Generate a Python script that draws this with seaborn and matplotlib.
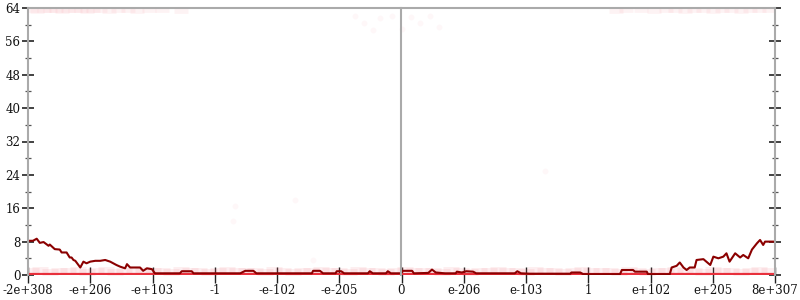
import matplotlib
matplotlib.use("Agg")
import matplotlib.pyplot as plt
import seaborn as sns
from matplotlib.ticker import MultipleLocator

# ---- data ----
tick_labels = ["-2e+308", "-e+206", "-e+103", "-1", "-e-102", "-e-205", "0",
               "e-206", "e-103", "1", "e+102", "e+205", "8e+307"]

avg_x = [0.00, 0.08, 0.14, 0.19, 0.25, 0.33, 0.35, 0.43, 0.51, 0.54, 0.62, 0.67,
         0.70, 0.73, 0.76, 0.81, 0.84, 0.89, 0.94, 1.00, 1.08, 1.16, 1.24, 1.32,
         1.42, 1.48, 1.56, 1.59, 1.64, 1.80, 1.85, 1.91, 1.99, 2.04, 2.44, 2.47,
         2.63, 2.66, 3.41, 3.49, 3.62, 3.67,
         3.97, 4.56, 4.58, 4.69, 4.74, 4.94, 4.96, 5.03, 5.08, 5.46, 5.49, 5.54,
         5.75, 5.78, 5.83, 5.99, 6.02, 6.17, 6.20, 6.43, 6.49, 6.55, 6.70, 6.87,
         6.89, 6.97, 7.04, 7.15, 7.20, 7.82, 7.86, 7.92,
         8.06, 8.71, 8.73, 8.87, 8.92, 9.51, 9.54, 9.72, 9.75, 9.94, 9.96, 10.31,
         10.34, 10.42, 10.47, 10.53, 10.58, 10.63, 10.71, 10.74, 10.85, 10.96,
         11.01, 11.09, 11.17, 11.22, 11.27, 11.36, 11.44, 11.49, 11.57, 11.63,
         11.71, 11.76, 11.81, 11.84, 12.00]
avg_y = [8.2, 8.2, 8.7, 7.7, 7.9, 7.0, 7.3, 6.2, 6.1, 5.4, 5.4, 4.2,
         4.2, 3.6, 3.4, 2.4, 1.8, 3.2, 2.8, 3.2, 3.4, 3.4, 3.6, 3.2,
         2.4, 2.0, 1.6, 2.6, 1.8, 1.8, 1.0, 1.6, 1.4, 0.4, 0.4, 0.9,
         0.9, 0.4, 0.4, 1.0, 1.0, 0.4,
         0.4, 0.4, 1.0, 1.0, 0.4, 0.4, 0.9, 0.9, 0.4, 0.4, 0.9, 0.4,
         0.4, 0.9, 0.4, 0.4, 1.0, 1.0, 0.4, 0.5, 1.3, 0.6, 0.4, 0.4,
         0.8, 0.6, 0.9, 0.8, 0.4, 0.4, 0.9, 0.4,
         0.3, 0.3, 0.6, 0.6, 0.2, 0.2, 1.2, 1.2, 0.8, 0.8, 0.2, 0.2,
         1.8, 2.2, 3.0, 1.8, 1.2, 1.8, 1.8, 3.6, 3.8, 2.4,
         4.4, 4.0, 4.4, 5.2, 3.2, 5.2, 4.2, 4.8, 4.0, 6.1,
         7.6, 8.4, 7.2, 8.0, 8.0]

base_x = [0.0, 12.0]
base_y = [0.25, 0.25]

band_x = [0.05, 0.2, 0.35, 0.5, 0.65, 0.8, 0.95, 1.1, 1.25, 1.4, 1.55, 1.7,
          1.85, 2.0, 2.15, 2.3, 2.45, 2.6, 2.75, 2.9, 3.05, 3.2, 3.35, 3.5,
          3.65, 3.8, 3.95, 4.1, 4.25, 4.4, 4.55, 4.7, 4.85, 5.0, 5.15, 5.3,
          5.45, 5.6, 5.75, 5.9, 6.05, 6.2, 6.35, 6.5, 6.65, 6.8, 6.95, 7.1,
          7.25, 7.4, 7.55, 7.7, 7.85, 8.0, 8.15, 8.3, 8.45, 8.6, 8.75, 8.9,
          9.05, 9.2, 9.35, 9.5, 9.65, 9.8, 9.95, 10.1, 10.25, 10.4, 10.55, 10.7,
          10.85, 11.0, 11.15, 11.3, 11.45, 11.6, 11.75, 11.9]
band_y = [0.9, 1.1, 0.8, 1.0, 0.9, 1.1, 0.8, 1.0, 1.1, 0.8, 1.0, 0.9,
          1.1, 0.9, 1.0, 0.8, 1.1, 0.9, 1.0, 0.8, 1.0, 1.1, 0.9, 1.0,
          0.9, 0.8, 1.1, 1.0, 0.8, 1.0, 0.9, 1.1, 0.9, 1.0, 0.8, 1.1,
          0.9, 1.0, 0.8, 1.0, 1.1, 0.9, 1.0, 0.9, 0.8, 1.1, 1.0, 0.8,
          1.0, 0.9, 1.1, 0.9, 1.0, 0.8, 1.1, 0.9, 1.0, 0.8, 1.0, 1.1,
          0.9, 1.0, 0.9, 0.8, 1.1, 1.0, 0.8, 1.0, 0.9, 1.1, 0.9, 1.0,
          0.8, 1.1, 0.9, 1.0, 0.8, 1.0, 1.1, 0.9]

top_x = [0.05, 0.15, 0.25, 0.35, 0.45, 0.55, 0.65, 0.75, 0.85, 0.95, 1.05, 1.15,
         1.3, 1.45, 1.6, 1.75, 1.95, 2.15, 2.45,
         9.45, 9.6, 9.85, 10.05, 10.25, 10.4, 10.55, 10.7, 10.85, 11.0, 11.15,
         11.3, 11.45, 11.6, 11.75, 11.9]
top_y = [63.5, 63.4, 63.5, 63.5, 63.5, 63.4, 63.5, 63.5, 63.5, 63.4, 63.5, 63.5,
         63.4, 63.5, 63.5, 63.4, 63.5, 63.5, 63.3,
         63.4, 63.5, 63.5, 63.4, 63.5, 63.5, 63.4, 63.5, 63.5, 63.4, 63.5,
         63.5, 63.4, 63.5, 63.5, 63.5]

mid_x = [5.25, 5.4, 5.55, 5.65, 5.85, 6.0, 6.15, 6.3, 6.45, 6.6, 3.32, 4.29, 3.3, 4.58, 8.3]
mid_y = [62.0, 60.3, 58.8, 61.5, 62.2, 59.0, 61.8, 60.5, 62.0, 59.5, 16.5, 18.0, 13.0, 3.5, 25.0]

# ---- figure ----
sns.set_theme(style="white")
plt.rcParams["font.family"] = ["DejaVu Serif"]

fig = plt.figure(figsize=(8, 3), dpi=100)
L, B, W, H = 28 / 800, 25 / 300, 747 / 800, 267 / 300
ax = fig.add_axes([L, B, W, H])

sns.scatterplot(x=band_x, y=band_y, ax=ax, color="#f06070", alpha=0.10, s=130,
                marker="_", linewidth=5, legend=False)
sns.scatterplot(x=top_x, y=top_y, ax=ax, color="#f06070", alpha=0.07, s=90,
                marker="_", linewidth=3.5, legend=False)
sns.scatterplot(x=mid_x, y=mid_y, ax=ax, color="#f07080", alpha=0.05, s=18,
                linewidth=0, legend=False)
sns.lineplot(x=base_x, y=base_y, ax=ax, color="#e8303c", linewidth=1.6,
             legend=False)
sns.lineplot(x=avg_x, y=avg_y, ax=ax, color="#8b0000", linewidth=1.5,
             legend=False, sort=False, estimator=None)

ax.set_xlim(0, 12)
ax.set_ylim(0, 64)
ax.set_xticks(range(len(tick_labels)))
ax.set_xticklabels(tick_labels)
ax.yaxis.set_major_locator(MultipleLocator(8))
ax.yaxis.set_minor_locator(MultipleLocator(4))

for s in ["left", "right", "top"]:
    ax.spines[s].set_color("#aaaaaa")
    ax.spines[s].set_linewidth(1.5)
ax.spines["bottom"].set_visible(False)

ax.tick_params(axis="y", which="major", direction="inout", length=9, width=1.2,
               color="#222222", left=True, right=True, labelright=False,
               labelsize=8.5, pad=1, labelcolor="#111111")
ax.tick_params(axis="y", which="minor", direction="inout", length=4.5, width=0.9,
               color="#555555", left=True, right=True)
ax.tick_params(axis="x", which="major", direction="inout", length=11, width=1.0,
               color="#222222", bottom=True, labelsize=8.5, pad=1,
               labelcolor="#111111")

# central vertical axis at the "0" position
cax = fig.add_axes([L + W / 2, B, 1e-6, H])
cax.set_ylim(0, 64)
cax.patch.set_alpha(0)
for s in ["right", "top", "bottom"]:
    cax.spines[s].set_visible(False)
cax.spines["left"].set_color("#aaaaaa")
cax.spines["left"].set_linewidth(1.5)
cax.set_xticks([])
cax.yaxis.set_major_locator(MultipleLocator(8))
cax.yaxis.set_minor_locator(MultipleLocator(4))
cax.tick_params(axis="y", which="major", direction="inout", length=9, width=1.2,
                color="#222222", labelleft=False)
cax.tick_params(axis="y", which="minor", direction="inout", length=4.5,
                width=0.9, color="#555555")

fig.savefig("out.png", dpi=100)
